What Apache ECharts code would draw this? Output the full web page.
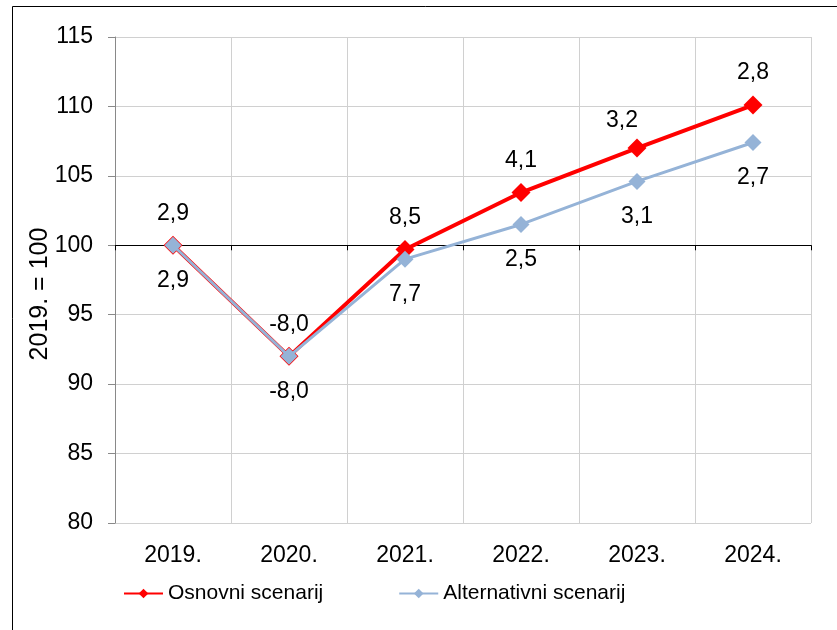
<!DOCTYPE html>
<html>
<head>
<meta charset="utf-8">
<script src="https://cdn.jsdelivr.net/npm/echarts@6/dist/echarts.min.js"></script>
<style>
  html, body { margin: 0; padding: 0; background: #fff; }
  #main { width: 837px; height: 630px; }
</style>
</head>
<body>
<div id="main"></div>
<script>
// categories and values (index, 2019. = 100)
var years = ['2019.', '2020.', '2021.', '2022.', '2023.', '2024.'];
var osnovni = [100, 92.0, 99.7, 103.8, 107.0, 110.1];
var alternativni = [100, 92.0, 99.0, 101.5, 104.6, 107.4];
// growth rates shown as labels
var osnovniRate = ['2,9', '-8,0', '8,5', '4,1', '3,2', '2,8'];
var alternativniRate = ['2,9', '-8,0', '7,7', '2,5', '3,1', '2,7'];
var yTicks = [80, 85, 90, 95, 100, 105, 110, 115];

var font = 'Liberation Sans, Arial, sans-serif';

function run() {
    var myChart = echarts.init(document.getElementById('main'));

    // the 3,2 label sits a little left in the original
    var osnovniData = osnovni.map(function (v, i) {
        if (i === 4) return { value: v, label: { offset: [-15, 5] } };
        return v;
    });

    var option = {
        animation: false,
        backgroundColor: '#fff',
        graphic: [{
            type: 'rect',
            shape: { x: 12.5, y: 6.5, width: 900, height: 700 },
            style: { fill: 'none', stroke: '#000', lineWidth: 1 },
            silent: true
        }],
        grid: { left: 115, right: 26, top: 37, bottom: 107 },
        legend: {
            data: ['Osnovni scenarij', 'Alternativni scenarij'],
            left: 123,
            top: 583,
            padding: 0,
            itemWidth: 39,
            itemHeight: 12,
            itemGap: 75,
            textStyle: { fontFamily: font, fontSize: 21, color: '#000' }
        },
        xAxis: [{
            type: 'category',
            data: years,
            boundaryGap: true,
            axisLine: { lineStyle: { color: '#bfbfbf', width: 1 } },
            axisTick: { show: false },
            axisLabel: { fontFamily: font, fontSize: 23, color: '#000', margin: 21 },
            splitLine: { show: true, lineStyle: { color: '#d0d0d0', width: 1 } }
        }, {
            // axis line crossing at 100
            type: 'category',
            data: years,
            boundaryGap: true,
            position: 'bottom',
            axisLine: { onZero: true, onZeroAxisIndex: 1, lineStyle: { color: '#000', width: 1 } },
            axisTick: { show: true, length: 5, lineStyle: { color: '#000' } },
            axisLabel: { show: false },
            splitLine: { show: false }
        }],
        yAxis: [{
            type: 'value',
            min: 80,
            max: 115,
            interval: 5,
            name: '2019. = 100',
            nameLocation: 'middle',
            nameGap: 62,
            nameMoveOverlap: false,
            nameTextStyle: { fontFamily: font, fontSize: 25, color: '#000', padding: [0, 28, 0, 0] },
            axisLine: { show: true, lineStyle: { color: '#898989', width: 1 } },
            axisTick: { show: true, length: 7, lineStyle: { color: '#898989' } },
            axisLabel: { fontFamily: font, fontSize: 23, color: '#000', margin: 22,
                formatter: function (v) { return yTicks.indexOf(v) >= 0 ? String(v) : ''; } },
            splitLine: { show: true, lineStyle: { color: '#d0d0d0', width: 1 } }
        }, {
            // hidden helper axis so that 0 here lies at 100 on the main axis
            type: 'value',
            min: 80 - 100,
            max: 115 - 100,
            show: false,
            splitLine: { show: false }
        }],
        series: [
            {
                name: 'Osnovni scenarij',
                type: 'line',
                data: osnovniData,
                symbol: 'diamond',
                symbolSize: 19,
                itemStyle: { color: '#ff0000' },
                lineStyle: { color: '#ff0000', width: 4 },
                label: {
                    show: true,
                    position: 'top',
                    distance: 11,
                    fontFamily: font,
                    fontSize: 23,
                    color: '#000',
                    formatter: function (p) { return osnovniRate[p.dataIndex]; }
                },
                z: 3
            },
            {
                name: 'Alternativni scenarij',
                type: 'line',
                data: alternativni,
                symbol: 'diamond',
                symbolSize: 17,
                itemStyle: { color: '#95b3d7' },
                lineStyle: { color: '#95b3d7', width: 3 },
                label: {
                    show: true,
                    position: 'bottom',
                    distance: 15,
                    fontFamily: font,
                    fontSize: 23,
                    color: '#000',
                    formatter: function (p) { return alternativniRate[p.dataIndex]; }
                },
                z: 4
            }
        ]
    };

    myChart.setOption(option);
}

run();
</script>
</body>
</html>
